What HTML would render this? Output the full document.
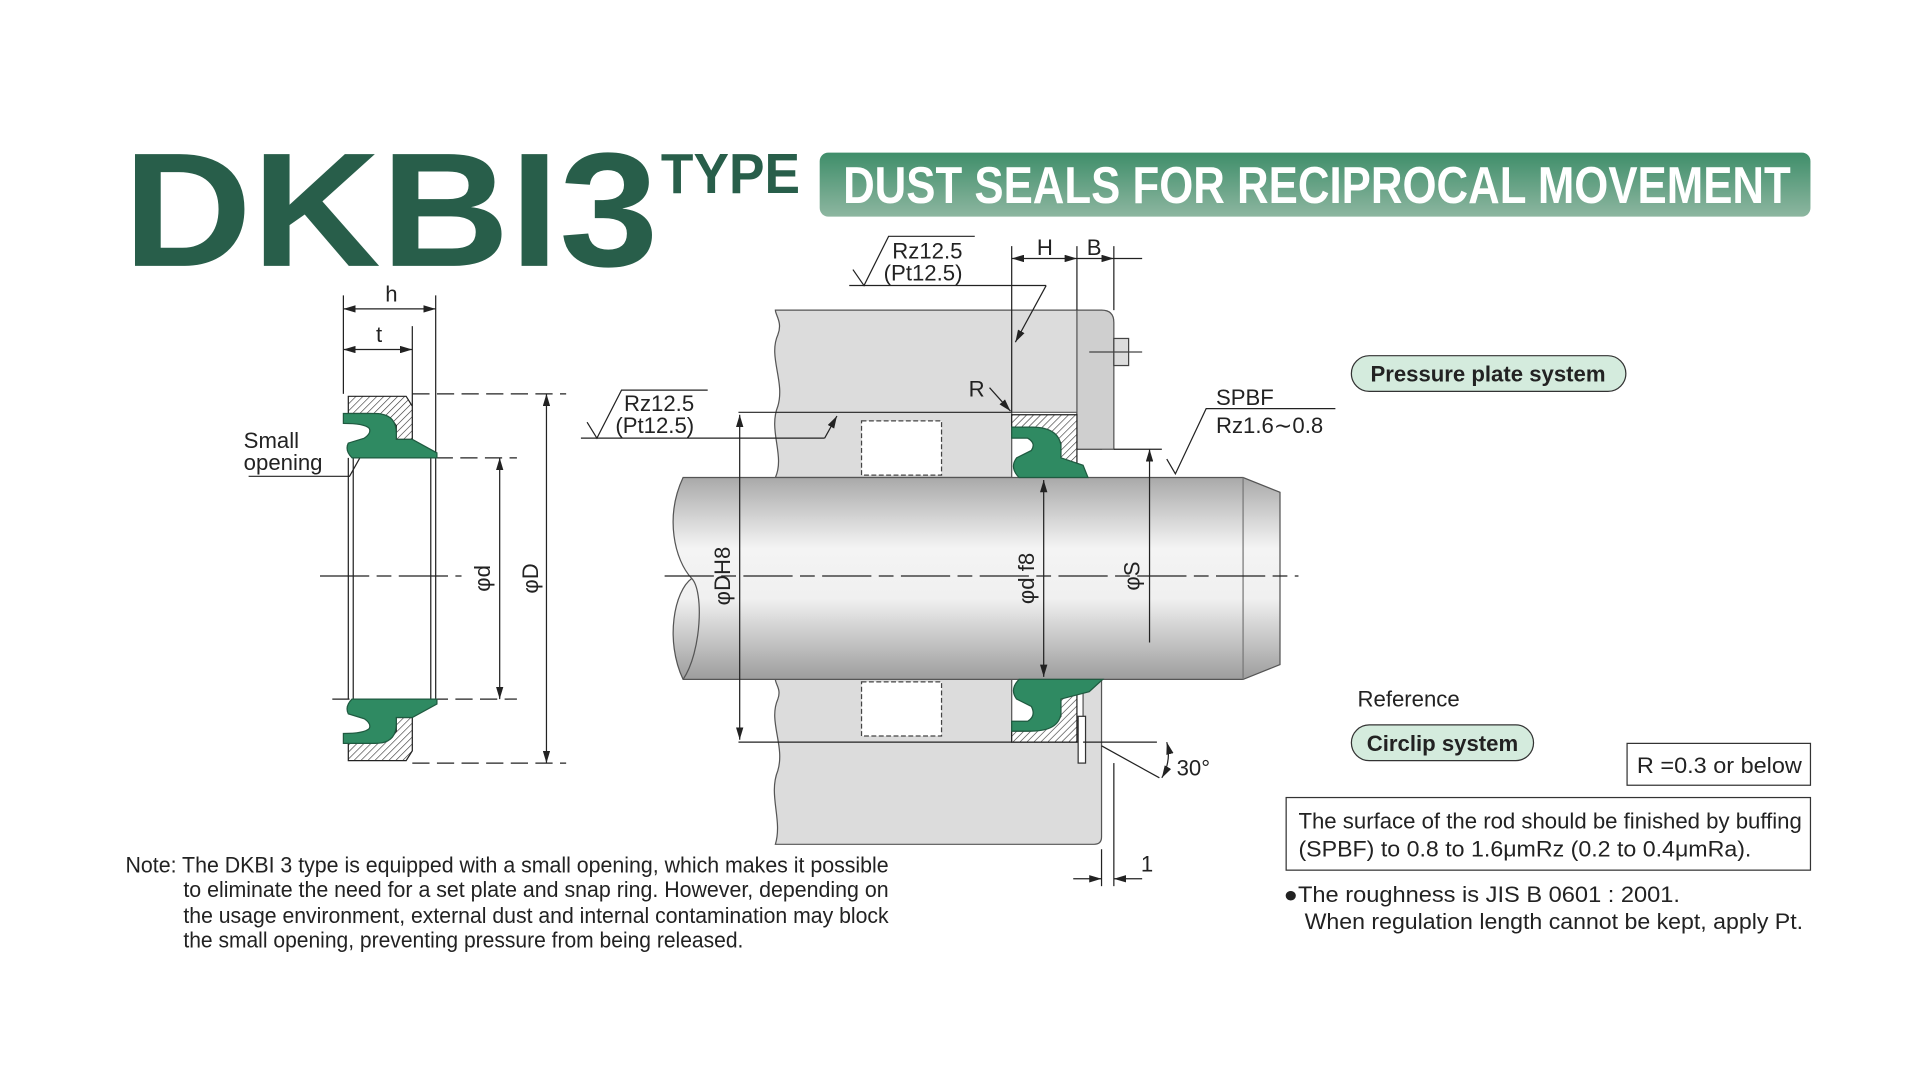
<!DOCTYPE html>
<html><head><meta charset="utf-8"><style>
html,body{margin:0;padding:0;background:#fff;}
svg{display:block;}
text{font-family:"Liberation Sans",sans-serif;fill:#222;}
</style></head><body>
<svg width="1920" height="1080" viewBox="0 0 1560 877.5" preserveAspectRatio="none" xmlns="http://www.w3.org/2000/svg">
<defs>
<linearGradient id="ban" x1="0" y1="0" x2="0" y2="1"><stop offset="0" stop-color="#3f8e6a"/><stop offset="1" stop-color="#8db6a0"/></linearGradient>
<linearGradient id="rod" x1="0" y1="0" x2="0" y2="1"><stop offset="0" stop-color="#a9a9a9"/><stop offset="0.35" stop-color="#f4f4f4"/><stop offset="0.6" stop-color="#f0f0f0"/><stop offset="1" stop-color="#9d9d9d"/></linearGradient>
<pattern id="hat" width="4" height="4" patternUnits="userSpaceOnUse" patternTransform="rotate(45)"><rect width="4" height="4" fill="#fff"/><line x1="0" y1="0" x2="0" y2="4" stroke="#333" stroke-width="1"/></pattern>
<marker id="ar" viewBox="0 0 10 6" refX="10" refY="3" markerWidth="10" markerHeight="6" orient="auto-start-reverse" markerUnits="userSpaceOnUse"><path d="M0,0 L10,3 L0,6z" fill="#222"/></marker>
</defs>

<!-- Title -->
<text x="100" y="216" font-size="132" font-weight="bold" style="fill:#285e4a" textLength="435" lengthAdjust="spacingAndGlyphs">DKBI3</text>
<text x="537" y="157" font-size="46" font-weight="bold" style="fill:#285e4a" textLength="113" lengthAdjust="spacingAndGlyphs">TYPE</text>
<rect x="666" y="124" width="805" height="52" rx="7" fill="url(#ban)"/>
<text x="685" y="165" font-size="42" font-weight="bold" style="fill:#fff" textLength="770" lengthAdjust="spacingAndGlyphs">DUST SEALS FOR RECIPROCAL MOVEMENT</text>

<g stroke="#222" stroke-width="1" fill="none">
<line x1="279" y1="240" x2="279" y2="320"/><line x1="354" y1="240" x2="354" y2="372"/><line x1="335" y1="265" x2="335" y2="330"/>
<line x1="279" y1="251" x2="354" y2="251" marker-start="url(#ar)" marker-end="url(#ar)"/>
<line x1="279" y1="284" x2="335" y2="284" marker-start="url(#ar)" marker-end="url(#ar)"/>
<g stroke-dasharray="14,6"><line x1="335" y1="320" x2="460" y2="320"/><line x1="354" y1="372" x2="420" y2="372"/><line x1="270" y1="568" x2="420" y2="568"/><line x1="335" y1="620" x2="460" y2="620"/></g>
<line x1="260" y1="468" x2="375" y2="468" stroke-dasharray="40,6,12,6"/>
<line x1="406" y1="372" x2="406" y2="568" marker-start="url(#ar)" marker-end="url(#ar)"/>
<line x1="444" y1="320" x2="444" y2="620" marker-start="url(#ar)" marker-end="url(#ar)"/>
<line x1="283" y1="372" x2="283" y2="568"/><line x1="287" y1="372" x2="287" y2="568"/>
<line x1="350" y1="372" x2="350" y2="568"/><line x1="354" y1="372" x2="354" y2="568"/>
<polyline points="202,387 284,387 298,362"/>
</g>
<path d="M283,322 L330,322 L335,330 L335,357 L322,357 L322,346 Q316,336 300,336 L283,336Z" fill="url(#hat)" stroke="#222"/>
<path d="M279,336 L305,336 Q322,336 322,352 L322,357 L335,357 L355,368 L355,372 L286,372 Q280,366 283,360 L296,356 Q302,352 300,348 Q296,344 279,344Z" fill="#2f8a62" stroke="#1f5a40"/>
<path d="M283,618 L330,618 L335,610 L335,583 L322,583 L322,594 Q316,604 300,604 L283,604Z" fill="url(#hat)" stroke="#222"/>
<path d="M279,604 L305,604 Q322,604 322,588 L322,583 L335,583 L355,572 L355,568 L286,568 Q280,574 283,580 L296,584 Q302,588 300,592 Q296,596 279,596Z" fill="#2f8a62" stroke="#1f5a40"/>
<text x="198" y="364" font-size="18">Small</text><text x="198" y="382" font-size="18">opening</text>
<text x="318" y="245" font-size="18" text-anchor="middle">h</text>
<text x="308" y="278" font-size="18" text-anchor="middle">t</text>
<text transform="translate(398,470) rotate(-90)" font-size="18" text-anchor="middle">φd</text>
<text transform="translate(437,470) rotate(-90)" font-size="18" text-anchor="middle">φD</text>

<!-- Center housing -->
<path d="M630,252 L895,252 L895,365 L875,365 L875,335 L822,335 L822,388 L630,388 C638,370 624,350 632,330 C638,310 624,290 632,272 C636,262 630,256 630,252Z" fill="#dcdcdc" stroke="#555"/>
<path d="M875,252 L895,252 Q905,252 905,262 L905,365 L875,365Z" fill="#cfcfcf" stroke="#555"/>
<path d="M630,552 L822,552 L822,603 L880,603 L880,552 L895,552 L895,680 Q895,686 889,686 L630,686 C636,666 624,646 632,626 C638,606 624,586 632,568 C635,560 630,556 630,552Z" fill="#dcdcdc" stroke="#555"/>
<rect x="905" y="275" width="12" height="22" fill="#ddd" stroke="#444"/>
<line x1="885" y1="286" x2="928" y2="286" stroke="#444"/>
<rect x="700" y="342" width="65" height="44" fill="#fff" stroke="#444" stroke-dasharray="4,2"/>
<rect x="700" y="554" width="65" height="44" fill="#fff" stroke="#444" stroke-dasharray="4,2"/>
<path d="M555,388 L1010,388 L1040,400 L1040,540 L1010,552 L555,552 C540,520 548,480 562,470 C548,455 540,420 555,388Z" fill="url(#rod)" stroke="#555"/>
<path d="M562,470 C572,480 570,530 555,552" fill="none" stroke="#555"/>
<line x1="1010" y1="388" x2="1010" y2="552" stroke="#777"/>
<path d="M822,337 L875,337 L875,385 L862,385 L862,360 Q855,347 835,347 L822,347Z" fill="url(#hat)" stroke="#222"/>
<path d="M822,347 L838,347 Q860,347 862,362 L862,372 L880,378 L884,388 L828,388 Q820,380 826,372 L838,366 Q842,360 835,356 L822,356Z" fill="#2f8a62" stroke="#1f5a40"/>
<path d="M822,603 L875,603 L875,560 L862,560 L862,582 Q855,594 835,594 L822,594Z" fill="url(#hat)" stroke="#222"/>
<path d="M822,594 L838,594 Q860,594 862,580 L862,568 L885,562 L896,552 L828,552 Q820,560 826,568 L838,574 Q842,582 835,586 L822,586Z" fill="#2f8a62" stroke="#1f5a40"/>
<rect x="876" y="582" width="6" height="38" fill="#fff" stroke="#333"/>

<g stroke="#222" stroke-width="1" fill="none">
<line x1="540" y1="468" x2="1055" y2="468" stroke-dasharray="40,6,12,6"/>
<line x1="600" y1="335" x2="822" y2="335"/><line x1="600" y1="603" x2="822" y2="603"/>
<line x1="601" y1="337" x2="601" y2="601" marker-start="url(#ar)" marker-end="url(#ar)"/>
<line x1="848" y1="390" x2="848" y2="550" marker-start="url(#ar)" marker-end="url(#ar)"/>
<line x1="905" y1="365" x2="944" y2="365"/>
<line x1="934" y1="365" x2="934" y2="522" marker-start="url(#ar)"/>
<line x1="822" y1="200" x2="822" y2="335"/><line x1="875" y1="200" x2="875" y2="252"/><line x1="905" y1="200" x2="905" y2="252"/>
<line x1="822" y1="210" x2="875" y2="210" marker-start="url(#ar)" marker-end="url(#ar)"/>
<line x1="875" y1="210" x2="905" y2="210" marker-end="url(#ar)"/>
<line x1="905" y1="210" x2="928" y2="210"/>
<polyline points="690,232 850,232"/><polyline points="693,219 702,232 722,192 792,192"/>
<line x1="850" y1="232" x2="825" y2="278" marker-end="url(#ar)"/>
<polyline points="472,356 670,356"/><polyline points="477,343 485,356 505,317 575,317"/>
<line x1="670" y1="356" x2="680" y2="338" marker-end="url(#ar)"/>
<line x1="804" y1="315" x2="821" y2="334" marker-end="url(#ar)"/>
<polyline points="948,373 955,385 980,332 1085,332"/>
<line x1="880" y1="603" x2="940" y2="603"/><line x1="895" y1="606" x2="942" y2="632"/>
<path d="M948,603 Q952,618 944,632" marker-start="url(#ar)" marker-end="url(#ar)"/>
<line x1="895" y1="690" x2="895" y2="720"/><line x1="905" y1="620" x2="905" y2="720"/>
<line x1="872" y1="714" x2="895" y2="714" marker-end="url(#ar)"/><line x1="928" y1="714" x2="905" y2="714" marker-end="url(#ar)"/>
</g>
<text x="725" y="210" font-size="18">Rz12.5</text><text x="718" y="228" font-size="18">(Pt12.5)</text>
<text x="507" y="334" font-size="18">Rz12.5</text><text x="500" y="352" font-size="18">(Pt12.5)</text>
<text x="849" y="207" font-size="18" text-anchor="middle">H</text><text x="889" y="207" font-size="18" text-anchor="middle">B</text>
<text x="787" y="322" font-size="18">R</text>
<text x="988" y="329" font-size="18">SPBF</text><text x="988" y="352" font-size="18">Rz1.6∼0.8</text>
<text x="956" y="630" font-size="18">30°</text><text x="927" y="708" font-size="18">1</text>
<text transform="translate(593,468) rotate(-90)" font-size="18" text-anchor="middle">φDH8</text>
<text transform="translate(840,470) rotate(-90)" font-size="18" text-anchor="middle">φd f8</text>
<text transform="translate(926,468) rotate(-90)" font-size="18" text-anchor="middle">φS</text>

<rect x="1098" y="289" width="223" height="29" rx="14.5" fill="#d4ebdd" stroke="#333"/>
<text x="1209" y="310" font-size="18" font-weight="bold" text-anchor="middle">Pressure plate system</text>
<text x="1103" y="574" font-size="18">Reference</text>
<rect x="1098" y="589" width="148" height="29" rx="14.5" fill="#d4ebdd" stroke="#333"/>
<text x="1172" y="610" font-size="18" font-weight="bold" text-anchor="middle">Circlip system</text>
<rect x="1322" y="604" width="149" height="34" fill="#fff" stroke="#333"/>
<text x="1330" y="628" font-size="18" textLength="134" lengthAdjust="spacingAndGlyphs">R =0.3 or below</text>
<rect x="1045" y="648" width="426" height="59" fill="#fff" stroke="#333"/>
<text x="1055" y="673" font-size="18" textLength="409" lengthAdjust="spacingAndGlyphs">The surface of the rod should be finished by buffing</text>
<text x="1055" y="696" font-size="18" textLength="368" lengthAdjust="spacingAndGlyphs">(SPBF) to 0.8 to 1.6μmRz (0.2 to 0.4μmRa).</text>
<text x="1043" y="733" font-size="18" textLength="322" lengthAdjust="spacingAndGlyphs">●The roughness is JIS B 0601 : 2001.</text>
<text x="1060" y="755" font-size="18" textLength="405" lengthAdjust="spacingAndGlyphs">When regulation length cannot be kept, apply Pt.</text>

<text x="102" y="709" font-size="18" textLength="620" lengthAdjust="spacingAndGlyphs">Note: The DKBI 3 type is equipped with a small opening, which makes it possible</text>
<text x="149" y="729" font-size="18" textLength="573" lengthAdjust="spacingAndGlyphs">to eliminate the need for a set plate and snap ring. However, depending on</text>
<text x="149" y="750" font-size="18" textLength="573" lengthAdjust="spacingAndGlyphs">the usage environment, external dust and internal contamination may block</text>
<text x="149" y="770" font-size="18" textLength="455" lengthAdjust="spacingAndGlyphs">the small opening, preventing pressure from being released.</text>
</svg>
</body></html>
